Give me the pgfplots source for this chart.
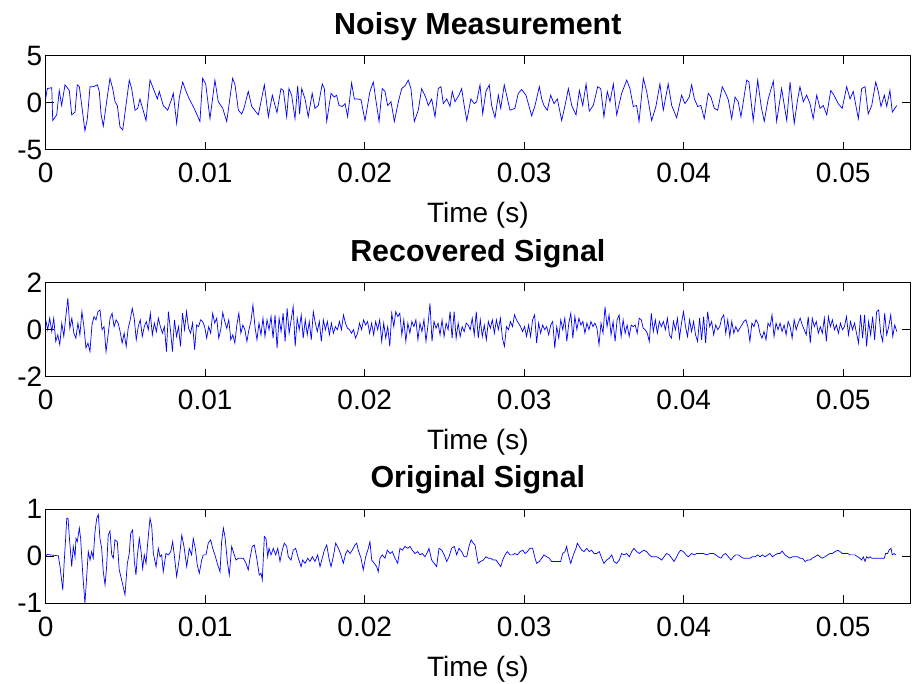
\documentclass[border=0pt]{standalone}
\usepackage{pgfplots}
\pgfplotsset{compat=1.18}
\usepackage{fontspec}
\setmainfont{Liberation Sans}
\begin{document}
\begin{tikzpicture}
\useasboundingbox (0,0) rectangle (916pt,683pt);
\pgfplotsset{
  mstyle/.style={
    scale only axis, width=864.3pt, height=94pt,
    xmin=0, xmax=0.05419,
    xtick={0,0.01,0.02,0.03,0.04,0.05},
    xticklabels={0,0.01,0.02,0.03,0.04,0.05},
    tick align=inside, xtick pos=both, ytick pos=both,
    major tick length=8pt,
    axis line style={line width=0.8pt},
    tick style={black, line width=0.8pt},
    tick label style={font=\fontsize{28}{34}\selectfont},
    xticklabel style={anchor=base, yshift=-32.7pt},
    xlabel={Time (s)},
    xlabel style={font=\fontsize{28}{34}\selectfont, at={(axis description cs:0.5,0)}, anchor=base, yshift=-72.7pt},
    title style={font=\bfseries\fontsize{30.4}{36}\selectfont, at={(axis description cs:0.5,1)}, anchor=base, yshift=15.5pt},
    scaled x ticks=false,
  }
}
\begin{axis}[mstyle, at={(45.7pt,533.3pt)}, anchor=south west, ymin=-5, ymax=5, ytick={-5,0,5}, yticklabels={-5,0,5}, title={Noisy Measurement}]
\addplot[blue, line width=0.7pt] coordinates {
(0,0.45) (0.0001,1.5) (0.00038,1.6) (0.00044,-1.9) (0.00069,-1.3) (0.00085,1.3) (0.001,-0.3) (0.00121,1.9) (0.00135,1.6) (0.00148,1.3) (0.00163,-1.3) (0.00184,-1.0) (0.00198,1.9) (0.00211,1.7) (0.00226,-0.3) (0.00246,-3.0) (0.00261,-1.7) (0.00278,1.7) (0.00298,1.7) (0.00324,1.9) (0.00336,1.2) (0.00347,-1.2) (0.00361,-2.5) (0.00382,0.1) (0.00403,2.6) (0.0042,1.5) (0.00435,0.1) (0.00449,-0.3) (0.00466,-2.6) (0.00483,-2.9) (0.00524,2.4) (0.00539,1.5) (0.0056,-0.8) (0.00577,-0.6) (0.00591,0.4) (0.00629,-1.9) (0.00654,2.4) (0.00675,1.5) (0.007,0.4) (0.00712,1.2) (0.00737,-0.3) (0.00765,-0.8) (0.0079,0.4) (0.008,1.0) (0.00821,-2.2) (0.00838,0.6) (0.00859,2.2) (0.0088,1.2) (0.009,0.4) (0.00922,-0.3) (0.00936,-0.8) (0.00967,-2.0) (0.00984,2.6) (0.01003,2.0) (0.0103,-1.7) (0.01061,2.4) (0.01082,0.1) (0.0111,-0.6) (0.01135,-2.0) (0.01172,2.6) (0.01187,1.9) (0.01208,-0.8) (0.01229,-1.2) (0.01243,-0.6) (0.0127,1.2) (0.01292,-0.4) (0.01333,-1.3)
(0.01371,1.9) (0.01396,-1.5) (0.01421,0.8) (0.01438,-0.3) (0.0145,-1.05) (0.01475,1.5) (0.0149,1.3) (0.01511,-1.5) (0.01525,1.5) (0.01542,0.8) (0.01563,-1.7) (0.0158,1.8) (0.01592,-1.2) (0.01605,1.5) (0.01626,0.4) (0.01646,-1.5) (0.01671,1.0) (0.01688,-0.6) (0.01709,-0.3) (0.01734,2.0) (0.01747,1.5) (0.01762,-2.0) (0.01789,1.0) (0.01809,0.6) (0.01824,0.8) (0.01839,-0.3) (0.0186,-0.4) (0.01877,-0.1) (0.01893,-1.5) (0.01918,2.1) (0.01935,0.4) (0.0196,0.4) (0.01977,0.3) (0.02002,-1.9) (0.02033,1.2) (0.02054,2.2) (0.02069,0.4) (0.0209,-2.0) (0.0211,1.5) (0.02127,1.2) (0.02144,-0.3) (0.02165,0.1) (0.02186,-2.0) (0.02211,0.1) (0.02232,1.5) (0.02253,1.8) (0.02273,2.4) (0.0229,1.5) (0.02311,-2.0) (0.02336,-0.8) (0.02357,1.5) (0.02382,0.6) (0.02399,-0.3) (0.0242,0.4) (0.02441,-1.5) (0.02461,1.5) (0.02478,1.7) (0.02493,-0.1) (0.02514,0.4) (0.02535,-0.4) (0.02549,1.2) (0.02566,0.1) (0.02591,0.8) (0.02608,1.5) (0.02624,-0.3) (0.0264,-1.9) (0.02666,0.4) (0.02687,-0.1)
(0.02702,0.1) (0.02723,1.9) (0.0274,-1.2) (0.0276,1.2) (0.02781,1.9) (0.02796,-0.3) (0.02817,-1.6) (0.02838,0.8) (0.02853,-0.6) (0.02875,1.9) (0.0289,0.8) (0.02911,-0.8) (0.02942,-0.6) (0.02963,1.0) (0.02984,1.4) (0.03011,0.8) (0.03026,-0.1) (0.03047,-1.4) (0.03068,-0.3) (0.03095,1.7) (0.0311,0.4) (0.03124,-0.3) (0.03145,-0.8) (0.03166,0.8) (0.03187,-0.1) (0.03208,0.4) (0.03235,-1.9) (0.03256,-0.3) (0.03277,1.5) (0.03298,-0.3) (0.03325,-1.3) (0.03346,1.3) (0.03367,-0.3) (0.03388,2.0) (0.03408,-0.9) (0.03433,-0.3) (0.03461,1.7) (0.0348,1.5) (0.035,-1.5) (0.03521,1.2) (0.03538,0.1) (0.03559,2.0) (0.0358,-1.3) (0.03611,1.0) (0.03643,2.4) (0.03663,1.5) (0.03684,-0.4) (0.03705,-0.3) (0.0372,-2.0) (0.03747,2.6) (0.03768,1.2) (0.03799,-1.9) (0.03826,-0.4) (0.03851,2.0) (0.03872,-0.8) (0.03903,2.0) (0.03925,-0.3) (0.03956,-1.6) (0.03987,0.8) (0.04008,-0.1) (0.04035,0.6)
(0.0405,1.9) (0.04067,0.4) (0.04088,-0.4) (0.04108,-0.3) (0.04129,-1.7) (0.04154,1.0) (0.04171,0.6) (0.04192,-0.6) (0.04213,-0.8) (0.04242,1.7) (0.04263,1.0) (0.0428,0.3) (0.04301,-1.7) (0.04322,0.6) (0.04342,0.1) (0.04359,-1.5) (0.04395,2.4) (0.04409,2.2) (0.04436,-1.9) (0.04464,2.4) (0.04485,-0.3) (0.04505,-2.0) (0.0453,0.4) (0.04562,2.3) (0.04583,-2.0) (0.04614,1.5) (0.04631,-0.3) (0.04646,-1.9) (0.04667,2.2) (0.04693,-2.2) (0.04715,0.4) (0.04729,1.7) (0.0475,0.1) (0.04771,0.8) (0.04792,-0.1) (0.04812,-1.7) (0.04834,0.8) (0.04855,-0.6) (0.04875,-0.3) (0.04897,-1.3) (0.04922,1.3) (0.04942,0.8) (0.04969,-0.1) (0.04994,-0.6) (0.05022,1.7) (0.05043,0.4) (0.05063,1.2) (0.05095,-1.7) (0.05116,1.5) (0.05137,1.7) (0.05157,-1.2) (0.05179,-0.3) (0.05204,2.2) (0.0522,1.2) (0.05237,-0.4) (0.05258,0.8) (0.05273,-0.4) (0.05293,1.3) (0.05308,-1.0) (0.05336,-0.3)
};
\end{axis}
\begin{axis}[mstyle, at={(45.7pt,306.3pt)}, anchor=south west, ymin=-2, ymax=2, ytick={-2,0,2}, yticklabels={-2,0,2}, title={Recovered Signal}]
\addplot[blue, line width=0.7pt] table[row sep=\\, x expr=\coordindex*0.000126147, y index=0] {
0.42\\0\\0.49\\-0.08\\0.49\\-0.5\\-0.22\\-0.64\\0.28\\-0.29\\0.56\\1.34\\0.06\\0.49\\-0.15\\-0.36\\0.28\\-0.22\\0.77\\0.13\\-0.78\\-0.57\\-0.93\\0.2\\0.56\\0.42\\0.77\\0.84\\0\\0.13\\-0.93\\-0.22\\0.49\\0.7\\0.13\\0.42\\0.28\\-0.08\\-0.57\\-0.15\\-0.71\\0.06\\0.42\\0.91\\0.49\\-0.43\\0.13\\0.42\\-0.29\\0.13\\0.35\\0\\0.7\\-0.22\\0.28\\-0.08\\0.49\\0.13\\-0.15\\0.13\\-0.93\\0.77\\0\\-0.93\\0.42\\-0.29\\0.13\\-0.71\\0.7\\0\\0.77\\0.06\\-0.15\\0.28\\-0.85\\0.2\\0.13\\0.42\\0.35\\0.13\\-0.36\\0.13\\-0.15\\0.7\\0.28\\0.49\\-0.36\\0\\0.73\\0.35\\0.06\\0.42\\-0.43\\-0.22\\-0.57\\0.2\\0.7\\-0.15\\0.2\\0\\-0.5\\
0\\0.35\\1.05\\0.13\\-0.43\\0.28\\-0.22\\0.49\\-0.29\\0.42\\0\\0.56\\-0.36\\0.63\\-0.78\\0.49\\-0.08\\0.7\\-0.5\\0.91\\-0.15\\0.42\\0.98\\-0.71\\0.49\\0\\0.63\\-0.36\\0.42\\-0.22\\0.35\\-0.43\\0.77\\0.28\\-0.08\\0.35\\-0.5\\0.42\\0\\0.35\\-0.22\\0.28\\-0.15\\0.13\\0\\0.35\\0\\0.63\\0.28\\0.06\\0\\-0.15\\0\\-0.36\\-0.15\\0.28\\0\\0.42\\0.2\\0.35\\-0.15\\0.28\\-0.22\\0.35\\0\\0.42\\-0.5\\0.28\\-0.36\\0.13\\-0.71\\0.7\\0.13\\0.77\\0.56\\0.7\\-0.22\\0.42\\-0.5\\0.28\\-0.15\\0.35\\0.13\\0.42\\-0.43\\0.28\\-0.08\\0.42\\-0.5\\0.2\\1.12\\-0.5\\0.35\\0.06\\0.28\\-0.22\\0.42\\-0.29\\0.28\\0\\0.77\\-0.36\\0.77\\-0.36\\0.28\\-0.29\\0.13\\-0.08\\0.28\\
0.2\\0\\0.49\\-0.22\\0.77\\-0.36\\0.42\\-0.29\\0.2\\-0.43\\0.35\\0.06\\0.42\\-0.15\\0.42\\0\\0.49\\-0.36\\-0.71\\0.13\\0\\0.35\\0.13\\0.63\\0.42\\0.28\\0.13\\-0.08\\0.13\\-0.29\\0.2\\-0.29\\0.42\\0.63\\-0.57\\0.28\\-0.15\\0.2\\0\\0.13\\-0.22\\0.2\\0.35\\-0.78\\0.13\\-0.36\\0.42\\0\\0.49\\-0.5\\0.28\\0.7\\-0.36\\0.56\\0\\0.49\\0.2\\0.35\\-0.15\\0.28\\0\\0.35\\0.13\\0.28\\0.06\\-0.64\\0.28\\-0.15\\0.98\\0.13\\0.63\\-0.22\\0.35\\-0.5\\0.42\\0.63\\-0.29\\0.42\\-0.15\\0.2\\-0.29\\0.2\\0.13\\0.2\\-0.15\\0.49\\0.42\\0.06\\0\\-0.15\\-0.5\\0.7\\-0.08\\0.42\\-0.15\\0.35\\0.13\\0.35\\0\\0.49\\-0.22\\-0.36\\0.35\\0\\0.49\\-0.36\\0.28\\0.77\\0.13\\
-0.29\\0.42\\-0.08\\0.35\\-0.22\\-0.5\\0.49\\-0.43\\0.56\\-0.57\\0.77\\0.13\\0.35\\-0.22\\0.2\\0\\0.13\\0.49\\0.63\\-0.15\\0.42\\-0.29\\0.35\\-0.15\\0.13\\-0.08\\0.06\\0.2\\0.35\\0.42\\0.13\\-0.5\\0.28\\0.13\\0.42\\0.28\\-0.15\\-0.36\\-0.08\\-0.43\\0.28\\0.13\\0.63\\-0.29\\0.28\\0\\0.28\\-0.08\\0.2\\-0.22\\0.35\\0.13\\-0.36\\0.42\\0\\0.28\\0.49\\0.2\\0\\-0.22\\0.56\\-0.57\\0.49\\0.13\\0.35\\-0.15\\0.13\\-0.15\\0.49\\-0.5\\0.56\\0.13\\0.42\\0\\0.2\\-0.15\\0.28\\0\\0.13\\0.56\\-0.22\\0.35\\0\\0.28\\-0.15\\-0.57\\0.63\\-0.36\\0.63\\-0.71\\0.35\\-0.22\\0.56\\-0.43\\0.77\\0.84\\-0.15\\-0.5\\0.7\\-0.22\\0.13\\0.63\\-0.29\\0.2\\-0.08\\
};
\end{axis}
\begin{axis}[mstyle, at={(45.7pt,79.7pt)}, anchor=south west, ymin=-1, ymax=1, ytick={-1,0,1}, yticklabels={-1,0,1}, title={Original Signal}]
\addplot[blue, line width=0.7pt] coordinates {
(0,0.01) (0.0001,0.04) (0.00027,0.03) (0.00079,0.01) (0.0009,-0.22) (0.00107,-0.72) (0.00115,-0.18) (0.00125,0.38) (0.00132,0.81) (0.0014,0.81) (0.00148,0.42) (0.00163,-0.22) (0.00173,0.21) (0.00184,-0.01) (0.0019,0.38) (0.00198,0.31) (0.00211,0.6) (0.00219,0.38) (0.00232,-0.36) (0.00246,-1.0) (0.00257,-0.43) (0.00267,0.1) (0.00278,-0.08) (0.00288,0.1) (0.00298,-0.04) (0.00309,0.52) (0.0032,0.81) (0.0033,0.89) (0.0034,0.38) (0.00351,0.17) (0.00361,-0.33) (0.00372,-0.61) (0.00382,-0.22) (0.00392,0.45) (0.00403,0.54) (0.00414,0.03) (0.00424,-0.04) (0.00434,0.35) (0.00449,0.31) (0.00461,-0.29) (0.00476,-0.5) (0.00497,-0.82) (0.00512,-0.15) (0.00524,0.06) (0.00533,0.49) (0.00545,0.56) (0.00556,-0.11) (0.00566,-0.4) (0.00574,-0.01) (0.00587,0.38) (0.00598,0.1) (0.00608,-0.26) (0.00618,0.03) (0.00629,-0.15) (0.00643,0.42) (0.00654,0.81) (0.00665,0.63) (0.00675,0.06) (0.00692,-0.22) (0.00706,0.17) (0.00717,-0.01) (0.00727,0.03) (0.00737,-0.33) (0.00754,0.06) (0.00769,0.03) (0.00784,0.1) (0.00796,0.31) (0.00806,0.03) (0.00821,-0.43) (0.00838,-0.04) (0.00853,0.45) (0.00867,0.21) (0.00884,-0.22) (0.009,0.17) (0.00915,0.03) (0.00925,0.38) (0.00938,0.17) (0.0095,-0.18) (0.00963,-0.36) (0.00978,-0.08) (0.00988,0.03) (0.01005,0.03) (0.01019,0.28) (0.01034,0.35) (0.01047,0.17) (0.01061,0.03) (0.01076,-0.15) (0.01093,-0.33) (0.01103,0.31) (0.01114,0.6) (0.01124,0.42) (0.01139,-0.11) (0.01151,-0.4) (0.01166,0.21) (0.01176,0.1) (0.01193,-0.08) (0.01208,-0.04) (0.01223,-0.04) (0.01239,-0.04) (0.01256,-0.15) (0.0127,-0.29) (0.01281,-0.04) (0.01295,0.21) (0.01308,0.24) (0.01323,-0.04) (0.01339,-0.4)
(0.0135,-0.36) (0.01358,-0.5) (0.01371,0.42) (0.01381,0.38) (0.01392,-0.01) (0.014,0.17) (0.01413,0.03) (0.01427,0.17) (0.01442,0.03) (0.01455,0.17) (0.01469,-0.11) (0.01483,0.13) (0.01496,0.28) (0.01511,0.21) (0.01521,-0.01) (0.01538,-0.08) (0.01552,0.13) (0.01567,0.17) (0.01584,-0.04) (0.01601,-0.22) (0.01611,-0.08) (0.01626,-0.15) (0.01643,-0.04) (0.01657,-0.11) (0.01672,-0.01) (0.01688,-0.11) (0.01705,0.03) (0.0172,-0.22) (0.01734,-0.04) (0.01747,0.13) (0.01762,0.24) (0.01776,-0.04) (0.01789,-0.22) (0.01803,-0.01) (0.01818,0.28) (0.01835,0.17) (0.01851,0.03) (0.01866,-0.15) (0.01881,0.06) (0.01893,0.13) (0.01908,0.06) (0.01922,0.13) (0.01939,0.24) (0.0195,0.28) (0.0196,0.13) (0.01977,-0.04) (0.01991,-0.29) (0.02006,-0.01) (0.02023,0.17) (0.02033,0.31) (0.02044,-0.08) (0.0206,-0.15) (0.02075,-0.22) (0.02085,-0.33) (0.02096,-0.04) (0.0211,0.03) (0.02127,-0.04) (0.02142,0.13) (0.02159,0.06) (0.02173,0.1) (0.0219,-0.04) (0.02207,-0.15) (0.02221,0.17) (0.02236,0.13) (0.02253,0.21) (0.0227,0.17) (0.02284,0.21) (0.02298,0.13) (0.02315,0.06) (0.02332,0.1) (0.02347,0.03) (0.02361,0.06) (0.02378,-0.01) (0.02395,0.1) (0.02403,0.17) (0.0242,-0.08) (0.02436,-0.15) (0.02451,-0.22) (0.02466,0.17) (0.02483,0.13) (0.02499,0.03) (0.02514,-0.11) (0.02529,-0.01) (0.02545,0.17) (0.02562,0.21) (0.02577,0.03) (0.02591,0.17) (0.02608,0.1) (0.02624,-0.01) (0.0264,-0.01) (0.02654,0.21) (0.02667,0.35) (0.02681,0.28) (0.02692,0.24)
(0.02702,0.03) (0.02712,-0.15) (0.02727,-0.11) (0.02744,-0.08) (0.0276,-0.01) (0.02775,-0.04) (0.0279,-0.04) (0.02806,-0.08) (0.02823,-0.08) (0.02838,-0.15) (0.02853,-0.22) (0.02865,-0.08) (0.0288,0.03) (0.02894,0.1) (0.02911,0.03) (0.02928,0.03) (0.02942,0.06) (0.02957,0.03) (0.02974,0.1) (0.02991,0.13) (0.03005,0.06) (0.0302,0.1) (0.03036,0.17) (0.03053,0.17) (0.03068,-0.04) (0.03078,-0.15) (0.03095,-0.11) (0.0311,-0.04) (0.03124,0.03) (0.03141,-0.01) (0.03157,-0.04) (0.03172,-0.11) (0.03193,-0.11) (0.03214,-0.11) (0.03229,-0.11) (0.03241,0.06) (0.03256,0.1) (0.03266,0.21) (0.03277,0.03) (0.03292,-0.15) (0.03308,0.03) (0.03325,0.17) (0.03333,0.28) (0.03346,0.21) (0.03361,0.13) (0.03375,0.1) (0.03392,0.17) (0.03408,0.1) (0.03423,0.13) (0.03438,0.06) (0.03455,0.06) (0.03471,0.1) (0.03486,-0.04) (0.035,-0.15) (0.03517,-0.08) (0.03534,-0.04) (0.03549,0.03) (0.03563,-0.11) (0.0358,-0.15) (0.03596,-0.08) (0.03611,0.06) (0.03626,0.03) (0.03643,0.06) (0.03659,-0.01) (0.03674,0.1) (0.03688,0.17) (0.03705,0.1) (0.03722,0.06) (0.03737,0.1) (0.03751,0.13) (0.03768,0.1) (0.03784,0.03) (0.03799,-0.01) (0.03814,-0.01) (0.03831,-0.01) (0.03847,-0.04) (0.03862,-0.08) (0.03877,-0.01) (0.03893,0.06) (0.0391,0.03) (0.03925,-0.04) (0.03939,-0.11) (0.03952,-0.04) (0.03966,0.06) (0.03981,0.13) (0.03998,0.1) (0.04015,0.03) (0.04029,-0.01)
(0.0405,0.06) (0.04067,0.03) (0.04082,0.06) (0.04102,0.06) (0.04123,0.06) (0.04144,0.03) (0.04165,0.06) (0.04186,0.06) (0.04201,0.03) (0.04217,-0.01) (0.04234,-0.04) (0.04248,0.03) (0.04263,0.06) (0.0428,-0.01) (0.04297,-0.08) (0.04311,-0.01) (0.04326,0.03) (0.04343,0.03) (0.04359,-0.01) (0.04374,-0.04) (0.04395,-0.04) (0.04416,-0.04) (0.0443,-0.01) (0.04447,-0.01) (0.04464,0.03) (0.04478,-0.01) (0.04493,0.03) (0.0451,-0.01) (0.04527,0.03) (0.04541,0.06) (0.04556,-0.01) (0.04573,0.03) (0.04589,0.06) (0.04604,0.06) (0.04618,0.11) (0.04635,0.03) (0.04652,-0.01) (0.04667,-0.04) (0.04681,-0.01) (0.04698,-0.01) (0.04715,-0.01) (0.04729,-0.04) (0.04744,-0.04) (0.04761,-0.11) (0.04777,-0.08) (0.04792,-0.08) (0.04806,-0.04) (0.04823,-0.01) (0.0484,0.03) (0.04855,-0.01) (0.04869,-0.04) (0.04886,-0.01) (0.04903,0.03) (0.04917,0.06) (0.04932,0.06) (0.04949,0.1) (0.04966,0.13) (0.0498,0.1) (0.04994,0.06) (0.05011,0.06) (0.05028,0.06) (0.05043,0.03) (0.05057,0.03) (0.05074,0.03) (0.05091,-0.01) (0.05105,-0.04) (0.05116,-0.08) (0.05126,-0.01) (0.05137,-0.11) (0.05147,-0.01) (0.05157,-0.04) (0.05168,-0.01) (0.05179,-0.04) (0.05195,-0.04) (0.05216,-0.04) (0.05237,-0.04) (0.05258,-0.04) (0.05266,0.06) (0.05279,0.06) (0.05287,0.13) (0.053,0.17) (0.05308,0.03) (0.0532,0.06) (0.05329,0.03)
};
\end{axis}
\end{tikzpicture}
\end{document}
